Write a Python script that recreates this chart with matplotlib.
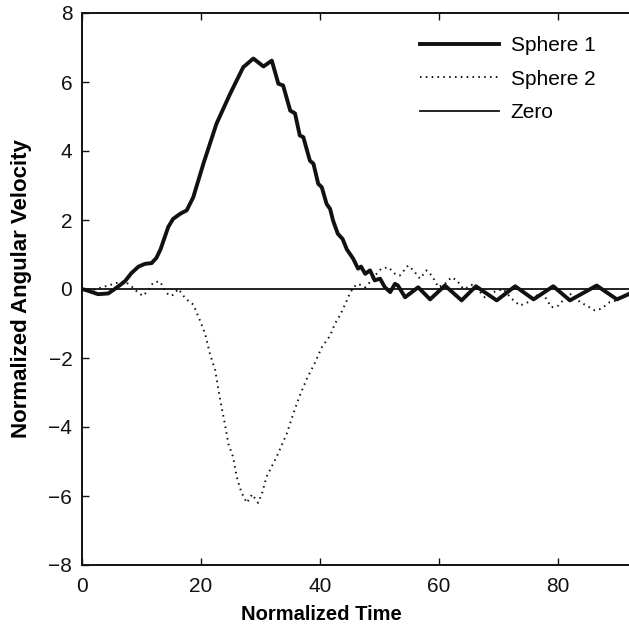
import matplotlib
matplotlib.use("Agg")
from matplotlib import pyplot as plt

plt.rcParams["font.family"] = ["Liberation Sans", "DejaVu Sans"]

# Sphere 1 (solid, thick)
sphere1_t = [0, 1.0, 2.7, 4.4, 5.5, 7.2, 8.3, 9.5, 10.6, 11.7, 12.5, 13.2, 13.8, 14.5,
             15.3, 16.5, 17.6, 18.7, 20.4, 22.6, 24.9, 27.1, 28.8, 30.5, 31.9, 33.0,
             33.8, 35.0, 35.8, 36.6, 37.2, 38.3, 38.9, 39.7, 40.3, 41.1, 41.7, 42.2,
             43.0, 43.8, 44.5, 45.3, 45.6, 46.4, 46.9, 47.6, 48.4, 49.2, 50.1, 50.9,
             51.8, 52.6, 53.1, 54.3, 56.5, 58.5, 61.0, 63.8, 66.2, 69.7, 72.8, 75.9,
             79.2, 82.0, 86.5, 89.9, 91.5, 93.0]
sphere1_v = [0, -0.05, -0.15, -0.13, 0.0, 0.22, 0.46, 0.65, 0.73, 0.75, 0.9, 1.15, 1.45, 1.8,
             2.03, 2.18, 2.28, 2.66, 3.63, 4.79, 5.66, 6.43, 6.68, 6.45, 6.62, 5.95,
             5.9, 5.17, 5.09, 4.45, 4.4, 3.72, 3.63, 3.05, 2.95, 2.47, 2.32, 1.98,
             1.6, 1.45, 1.15, 0.95, 0.87, 0.59, 0.65, 0.44, 0.54, 0.25, 0.3, 0.05,
             -0.09, 0.15, 0.1, -0.24, 0.05, -0.3, 0.1, -0.33, 0.08, -0.33, 0.08, -0.3,
             0.08, -0.33, 0.1, -0.3, -0.18, -0.05]

# Sphere 2 (dotted)
sphere2_t = [0, 2.0, 4.4, 6.1, 7.2, 8.3, 9.5, 10.3, 11.1, 12.0, 13.1, 14.2, 15.1, 16.2,
             17.4, 18.7, 19.8, 20.7, 21.5, 22.4, 22.9, 23.5, 24.0, 24.6, 25.4, 26.0,
             26.8, 27.7, 28.6, 29.6, 30.3, 31.0, 32.7, 34.4, 35.5, 36.6, 37.8, 39.2,
             40.3, 41.7, 42.5, 43.4, 44.2, 45.0, 45.6, 46.4, 47.6, 48.4, 49.5, 50.3,
             51.5, 52.6, 53.4, 54.8, 55.7, 56.8, 57.9, 58.8, 59.9, 61.0, 62.1, 63.0,
             64.1, 64.9, 65.5, 66.9, 67.7, 69.1, 70.8, 72.2, 73.6, 75.0, 76.4, 77.5,
             78.9, 80.1, 81.5, 82.3, 83.7, 84.8, 86.2, 87.3, 88.7, 89.9, 91.0, 92.0]
sphere2_v = [0, -0.02, 0.1, 0.19, 0.22, 0.08, -0.12, -0.2, -0.03, 0.19, 0.22, -0.12, -0.2, 0.0,
             -0.28, -0.45, -0.9, -1.3, -1.88, -2.36, -2.89, -3.47, -3.9, -4.49, -4.87, -5.45,
             -5.9, -6.2, -5.95, -6.2, -5.9, -5.45, -4.87, -4.2, -3.62, -3.09, -2.6, -2.12,
             -1.69, -1.35, -1.01, -0.75, -0.45, -0.14, 0.05, 0.15, 0.05, 0.2, 0.44, 0.59,
             0.63, 0.44, 0.39, 0.68, 0.54, 0.3, 0.54, 0.39, 0.05, 0.15, 0.34, 0.25,
             0.0, 0.05, 0.12, -0.09, -0.24, -0.09, 0.0, -0.28, -0.48, -0.38, -0.19, -0.14,
             -0.53, -0.48, -0.19, -0.14, -0.38, -0.48, -0.62, -0.57, -0.38, -0.33, -0.19, -0.09]

x_ticks = [0, 20, 40, 60, 80]
y_ticks = [-8, -6, -4, -2, 0, 2, 4, 6, 8]

W, H = 629, 626
fig = plt.figure(figsize=(W / 100, H / 100), dpi=100)
# axes runs past the right edge of the figure, as in the cropped original
ax = fig.add_axes([82 / W, 61 / H, 595 / W, 552 / H])

ax.plot(sphere1_t, sphere1_v, color="#111111", lw=2.8, label="Sphere 1")
ax.plot(sphere2_t, sphere2_v, color="#111111", lw=1.4, linestyle=(0, (0.8, 2.2)), label="Sphere 2")
ax.axhline(0, color="#111111", lw=1.3, label="Zero")

ax.set_xlim(0, 100)
ax.set_ylim(-8, 8)
ax.set_xticks(x_ticks)
ax.set_yticks(y_ticks)
ax.set_yticklabels(["\u22128", "\u22126", "\u22124", "\u22122", "0", "2", "4", "6", "8"])
ax.tick_params(direction="in", length=5, width=1, top=True, right=False,
               labelsize=15, colors="#111111")
ax.tick_params(axis="x", pad=9)
ax.tick_params(axis="y", pad=7)
for s in ax.spines.values():
    s.set_linewidth(1.4)
    s.set_color("#111111")

ax.set_xlabel("Normalized Time", fontsize=14.5, fontweight="bold")
ax.xaxis.set_label_coords((321 - 82) / 595, -40 / 552)
ax.set_ylabel("Normalized Angular Velocity", fontsize=16, fontweight="bold")
ax.yaxis.set_label_coords((32 - 82) / 595, 0.5)

fig.legend(loc="upper left", bbox_to_anchor=(420 / W, 1 - 36 / H), frameon=False,
           fontsize=15, handlelength=3.8, handletextpad=0.55, labelspacing=0.7,
           borderpad=0, borderaxespad=0)

fig.savefig("out.png", dpi=100)
